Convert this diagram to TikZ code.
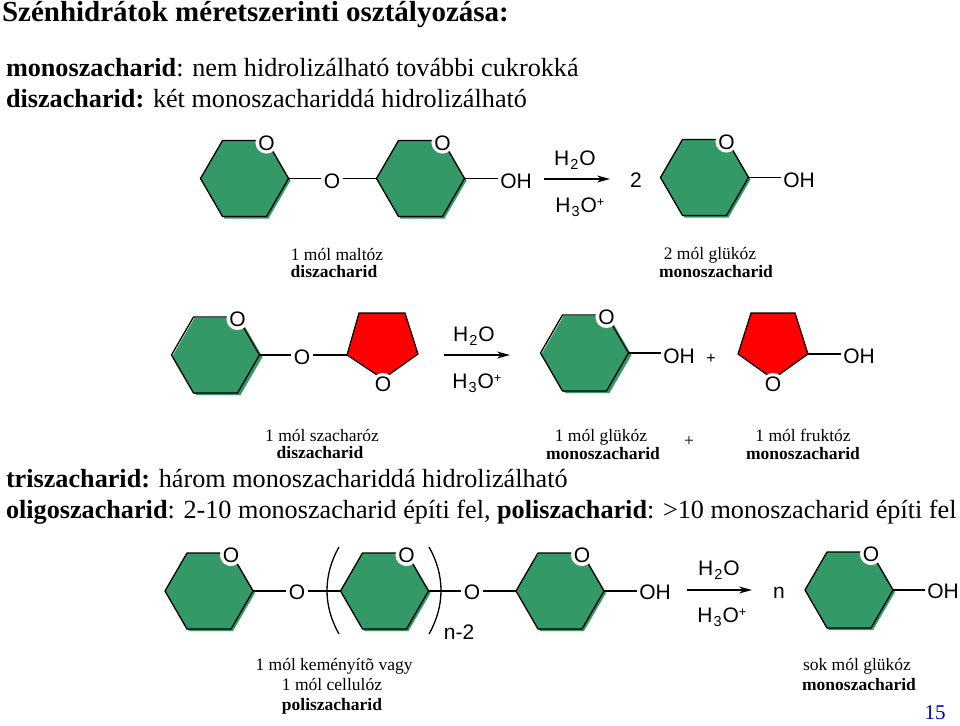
\documentclass[tikz,border=0pt]{standalone}
\usepackage{fontspec}
\setmainfont{Liberation Serif}
\newfontfamily\arialf{Liberation Sans}
\usetikzlibrary{arrows.meta}
\definecolor{ringgreen}{HTML}{339966}
\tikzset{
  every node/.style={inner sep=0pt,outer sep=0pt},
  chem/.style={font=\arialf\fontsize{21}{21}\selectfont,text height=15pt,text depth=0pt},
  ringO/.style={chem,circle,fill=white},
  bridgeO/.style={chem,circle},
  hydroxyl/.style={chem,inner sep=2pt},
  bond/.style={line width=1.2pt,black},
  ringline/.style={line width=1.3pt,black,line join=miter},
  fivering/.style={fill=red,draw=black,line width=1.2pt,line join=miter},
  rxnarrow/.style={line width=1.2pt,black,-{Stealth[length=13pt,width=7pt]}},
  bigline/.style={font=\fontsize{26.2}{28}\selectfont,anchor=base west},
  caption/.style={font=\fontsize{17.5}{19}\selectfont,anchor=base},
  captionb/.style={font=\bfseries\fontsize{17.5}{19}\selectfont,anchor=base},
  bracket/.style={line width=1.3pt,black}
}
\newcommand{\subtwo}[1]{\kern1pt\raisebox{-3.5pt}{\fontsize{14.5}{14}\selectfont #1}\kern1pt}
\newcommand{\suppl}{\raisebox{6pt}{\fontsize{13}{13}\selectfont +}}
% name, cx, cy, shadow dx
\newcommand{\hexring}[4]{%
  \fill[ringgreen] (#2-44+#4,#3+2) -- (#2-22+#4,#3-38+2) -- (#2+22+#4,#3-38+2) -- (#2+44+#4,#3+2) -- (#2+22+#4,#3+38+2) -- (#2-22+#4,#3+38+2) -- cycle;
  \fill[ringgreen] (#2-44+#4-2,#3+#4-2) -- (#2-22+#4-2,#3-38+#4-2) -- (#2+22+#4-2,#3-38+#4-2) -- (#2+44+#4-2,#3+#4-2) -- (#2+22+#4-2,#3+38+#4-2) -- (#2-22+#4-2,#3+38+#4-2) -- cycle;
  \draw[ringline] (#2-44,#3) -- (#2-22,#3-38) -- (#2+22,#3-38) -- (#2+44,#3) -- (#2+22,#3+38) -- (#2-22,#3+38) -- cycle;
  \coordinate (#1-l) at (#2-44,#3);
  \coordinate (#1-r) at (#2+44,#3);
  \node[ringO] (#1-O) at (#2+22,#3-36) {O};
}
\begin{document}
\begin{tikzpicture}[x=1pt,y=-1pt]
\useasboundingbox (0,0) rectangle (960,725);
% text lines
\node[bigline,font=\bfseries\fontsize{29}{30}\selectfont] (title) at (2,22) {Szénhidrátok méretszerinti osztályozása:};
\node[bigline] (l1) at (6,76) {\textbf{monoszacharid}: nem hidrolizálható további cukrokká};
\node[bigline] (l2) at (6,107) {\textbf{diszacharid:} két monoszachariddá hidrolizálható};
\node[bigline] (l3) at (6,487) {\textbf{triszacharid:} három monoszachariddá hidrolizálható};
\node[bigline] (l4) at (6,518) {\textbf{oligoszacharid}: 2-10 monoszacharid építi fel, \textbf{poliszacharid}: >10 monoszacharid építi fel};
% row 1
\hexring{a}{244.5}{178.5}{2}
\hexring{b}{420.5}{178.5}{2}
\hexring{c}{704.5}{177.5}{2}
\node[bridgeO] (ao) at (332,181) {O};
\node[hydroxyl] (aoh) at (516,181) {OH};
\node[hydroxyl] (coh) at (799,180) {OH};
\node[chem] (two) at (636,180) {2};
\draw[bond] (a-r) -- (a-r -| ao.west);
\draw[bond] (b-l -| ao.east) -- (b-l);
\draw[bond] (b-r) -- (b-r -| aoh.west);
\draw[bond] (c-r) -- (c-r -| coh.west);
\coordinate (a1) at (544,179);
\coordinate (a2) at (610,179);
\draw[rxnarrow] (a1) -- (a2);
\node[chem] (awat) at (575,158) {H\subtwo{2}O};
\node[chem] (aacid) at (580,205) {H\subtwo{3}O\suppl};
\node[caption] (cap1a) at (337,260) {1 mól maltóz};
\node[captionb] (cap1b) at (334,277) {diszacharid};
\node[caption] (cap2a) at (710,259) {2 mól glükóz};
\node[captionb] (cap2b) at (716,277) {monoszacharid};
% row 2
\hexring{d}{215.5}{355}{3}
\hexring{e}{584.5}{353}{3}
\draw[fivering] (347,355) -- (359,313) -- (405,313) -- (418,354) -- (383,379) -- cycle;
\coordinate (p-l) at (347,355);
\node[ringO] (p-O) at (383,384) {O};
\draw[fivering] (751,313) -- (795,313) -- (808,354) -- (773,379) -- (738,354) -- cycle;
\coordinate (q-r) at (808,354);
\node[ringO] (q-O) at (773,384) {O};
\node[bridgeO] (do) at (302,357) {O};
\node[hydroxyl] (eoh) at (679,356) {OH};
\node[hydroxyl] (qoh) at (859,356) {OH};
\node[chem,font=\arialf\fontsize{16}{16}\selectfont] (pl) at (711,356) {+};
\draw[bond] (d-r) -- (d-r -| do.west);
\draw[bond] (p-l -| do.east) -- (p-l);
\draw[bond] (e-r) -- (e-r -| eoh.west);
\draw[bond] (q-r) -- (q-r -| qoh.west);
\coordinate (b1) at (444,355);
\coordinate (b2) at (510,355);
\draw[rxnarrow] (b1) -- (b2);
\node[chem] (bwat) at (474,334) {H\subtwo{2}O};
\node[chem] (bacid) at (477,381) {H\subtwo{3}O\suppl};
\node[caption] (cap3a) at (322,441) {1 mól szacharóz};
\node[captionb] (cap3b) at (320,458) {diszacharid};
\node[caption] (cap4a) at (601,441) {1 mól glükóz};
\node[captionb] (cap4b) at (603,459) {monoszacharid};
\node[caption] (cap4p) at (689,446) {+};
\node[caption] (cap5a) at (803,441) {1 mól fruktóz};
\node[captionb] (cap5b) at (803,459) {monoszacharid};
% row 3
\hexring{f}{209}{591}{2}
\hexring{g}{384.5}{591}{2}
\hexring{h}{560}{591}{2}
\hexring{i}{849}{590}{2}
\node[bridgeO] (fo) at (297,592) {O};
\node[bridgeO] (go) at (472,592) {O};
\node[hydroxyl] (hoh) at (655,592) {OH};
\node[hydroxyl] (ioh) at (943,591) {OH};
\node[chem] (nn) at (779,591) {n};
\node[chem] (nm2) at (459,632) {n-2};
\draw[bond] (f-r) -- (f-r -| fo.west);
\draw[bond] (g-l -| fo.east) -- (g-l);
\draw[bond] (g-r) -- (g-r -| go.west);
\draw[bond] (h-l -| go.east) -- (h-l);
\draw[bond] (h-r) -- (h-r -| hoh.west);
\draw[bond] (i-r) -- (i-r -| ioh.west);
\draw[bracket] (339,547) .. controls (323,575) and (323,606) .. (339,634);
\draw[bracket] (429,547) .. controls (445,575) and (445,606) .. (429,634);
\coordinate (c1) at (687,590);
\coordinate (c2) at (752,590);
\draw[rxnarrow] (c1) -- (c2);
\node[chem] (cwat) at (719,568) {H\subtwo{2}O};
\node[chem] (cacid) at (722,615) {H\subtwo{3}O\suppl};
\node[caption] (cap6a) at (334,670) {1 mól keményítõ vagy};
\node[caption] (cap6b) at (332,690) {1 mól cellulóz};
\node[captionb] (cap6c) at (332,710) {poliszacharid};
\node[caption] (cap7a) at (857,670) {sok mól glükóz};
\node[captionb] (cap7b) at (859,690) {monoszacharid};
\node[font=\fontsize{21}{21}\selectfont,text=blue!70!black,anchor=base] (pg) at (935,719) {15};
\end{tikzpicture}
\end{document}
